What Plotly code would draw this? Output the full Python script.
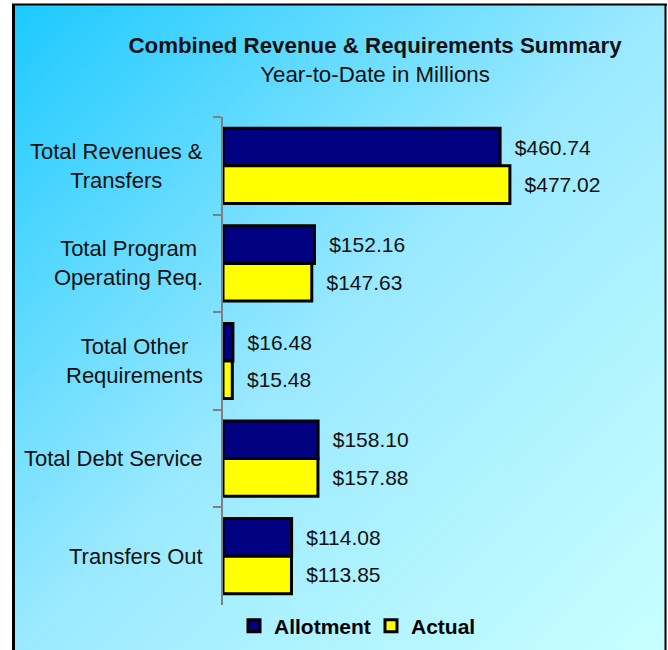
import base64
import plotly.graph_objects as go

# ---- data ----
categories = ["Total Revenues & Transfers", "Total Program Operating Req.",
              "Total Other Requirements", "Total Debt Service", "Transfers Out"]
category_labels = ["Total Revenues &<br>Transfers", "Total Program<br>Operating Req.",
                   "Total Other<br>Requirements", "Total Debt Service", "Transfers Out"]
allotment = [460.74, 152.16, 16.48, 158.10, 114.08]
actual = [477.02, 147.63, 15.48, 157.88, 113.85]
series_names = ["Allotment", "Actual"]

title_main = "Combined Revenue & Requirements Summary"
title_sub = "Year-to-Date in Millions"

# ---- layout geometry ----
W, H = 668, 650
ML, MR, MT, MB = 223, 24, 117, 45
PW, PH = W - ML - MR, H - MT - MB


def px_x(px):
    return (px - ML) / PW


def px_y(py):
    return (H - MB - py) / PH


FONT = "Liberation Sans, Arial, sans-serif"
NAVY = "#000080"
YELLOW = "#FFFF00"

svg = ('<svg xmlns="http://www.w3.org/2000/svg" width="654" height="646" '
       'preserveAspectRatio="none" viewBox="0 0 654 646">'
       '<defs><linearGradient id="g" x1="0" y1="0" x2="1" y2="1">'
       '<stop offset="0" stop-color="#1CC9FF"/>'
       '<stop offset="0.5" stop-color="#9BE9FF"/>'
       '<stop offset="1" stop-color="#C8FFFF"/>'
       '</linearGradient></defs>'
       '<rect width="654" height="646" fill="url(#g)"/></svg>')
bg_src = "data:image/svg+xml;base64," + base64.b64encode(svg.encode()).decode()


def fmt(v):
    return "\u00a0\u00a0$" + f"{v:,.2f}"


fig = go.Figure()
for name, vals, col in [(series_names[0], allotment, NAVY), (series_names[1], actual, YELLOW)]:
    fig.add_trace(go.Bar(
        name=name, y=categories, x=vals, orientation="h",
        marker=dict(color=col, line=dict(color="#000000", width=3)),
        text=[fmt(v) for v in vals], textposition="outside",
        textfont=dict(family=FONT, size=21, color="#111111"),
        constraintext="none", cliponaxis=False,
    ))

annotations = []
for cat, lab in zip(categories, category_labels):
    annotations.append(dict(
        x=0, xref="paper", y=cat, yref="y", text=lab, showarrow=False,
        xanchor="right", yanchor="middle", align="center", xshift=-18,
        font=dict(family=FONT, size=22, color="#111111"),
    ))

shapes = [
    dict(type="line", xref="paper", yref="paper", x0=px_x(13.5), x1=px_x(13.5),
         y0=px_y(4), y1=px_y(652), line=dict(color="#000000", width=3)),
    dict(type="line", xref="paper", yref="paper", x0=px_x(12), x1=px_x(667),
         y0=px_y(4.5), y1=px_y(4.5), line=dict(color="#000000", width=2)),
    dict(type="line", xref="paper", yref="paper", x0=px_x(665.5), x1=px_x(665.5),
         y0=px_y(4), y1=px_y(652), line=dict(color="#000000", width=2)),
]

fig.update_layout(
    width=W, height=H,
    margin=dict(l=ML, r=MR, t=MT, b=MB, autoexpand=False),
    paper_bgcolor="#FFFFFF", plot_bgcolor="rgba(0,0,0,0)",
    barmode="group", bargap=0.23, bargroupgap=0,
    title=dict(
        text=f"<b>{title_main}</b><br>{title_sub}",
        xref="container", yref="container", x=375 / W, y=1 - 53 / H,
        xanchor="center", yanchor="middle",
        font=dict(family=FONT, size=22.3, color="#111111"),
    ),
    xaxis=dict(visible=False, range=[0, 700]),
    yaxis=dict(autorange="reversed", showticklabels=False, showgrid=False,
               zeroline=False, showline=True, linecolor="#808080", linewidth=2,
               ticks="outside", tickson="boundaries", ticklen=8, tickcolor="#808080",
               tickwidth=2),
    legend=dict(orientation="h", xref="container", yref="container",
                x=371 / W, y=1 - 626 / H, xanchor="center", yanchor="middle",
                font=dict(family=FONT, size=21, color="#000000", weight="bold"),
                bgcolor="rgba(0,0,0,0)", itemwidth=30,
                entrywidth=92, entrywidthmode="pixels"),
    images=[dict(source=bg_src, xref="paper", yref="paper",
                 x=px_x(12), y=px_y(4), sizex=px_x(666) - px_x(12),
                 sizey=px_y(4) - px_y(650), xanchor="left", yanchor="top",
                 sizing="stretch", layer="below")],
    annotations=annotations,
    shapes=shapes,
    showlegend=True,
)

fig.write_html("out.html", config={"displayModeBar": False},
               post_script="document.body.style.margin='0px';")
